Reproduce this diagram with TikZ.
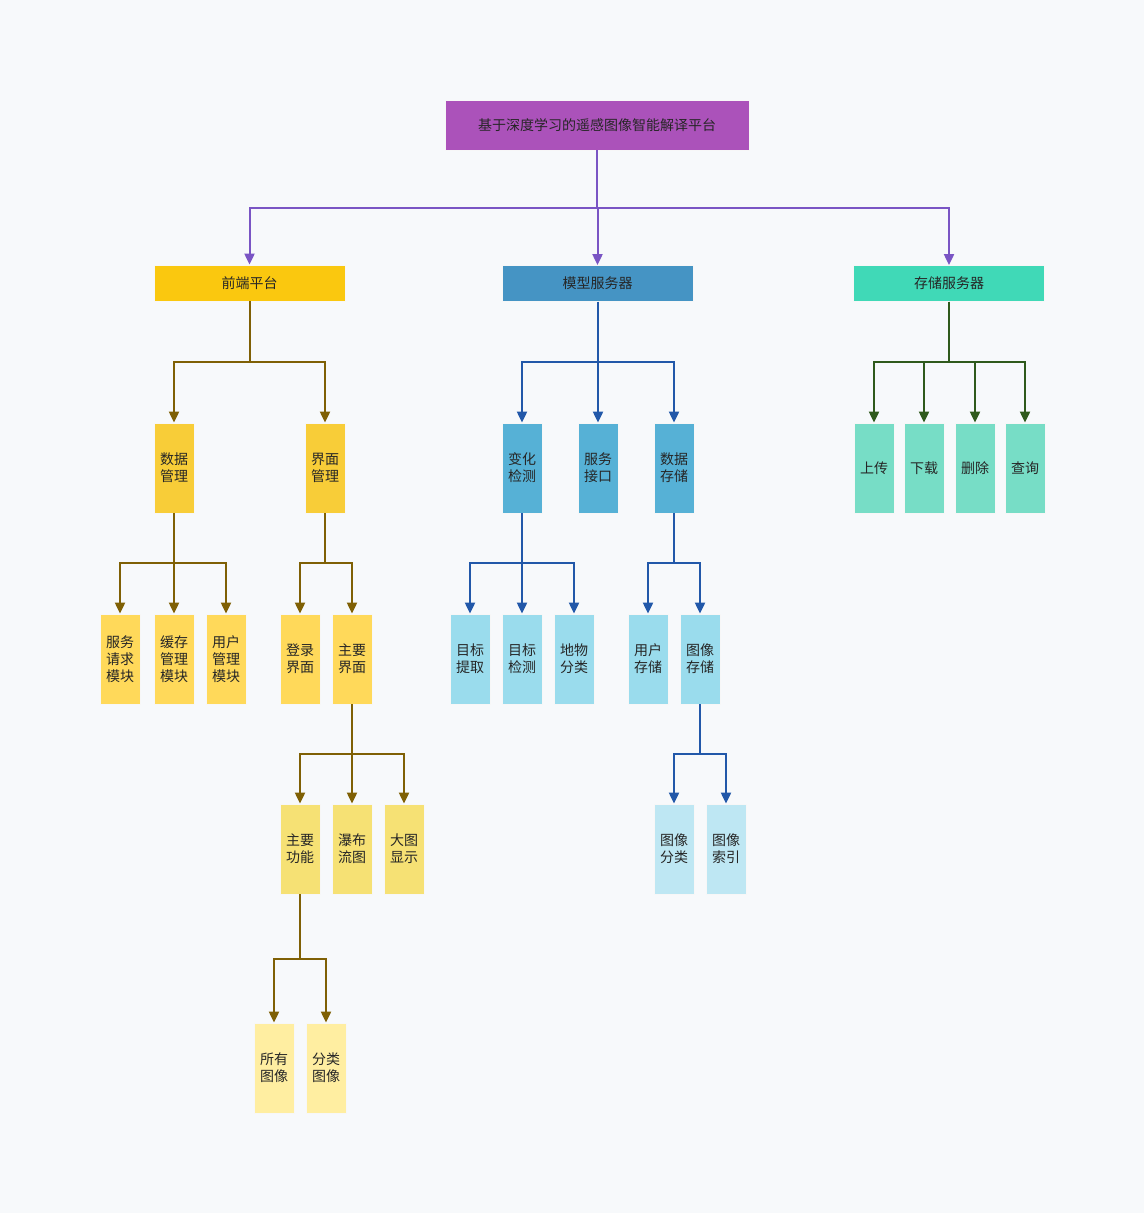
\documentclass[tikz,border=0pt]{standalone}
\usepackage{fontspec}
\setmainfont{Noto Sans CJK SC}
\usetikzlibrary{arrows.meta}
\definecolor{bg}{HTML}{F7F9FB}
\definecolor{cRoot}{HTML}{AB52BA}
\definecolor{cFe}{HTML}{FAC80F}
\definecolor{cFeA}{HTML}{F8CD38}
\definecolor{cFeB}{HTML}{FFD95A}
\definecolor{cFeC}{HTML}{F6E174}
\definecolor{cFeD}{HTML}{FFEEA1}
\definecolor{cMo}{HTML}{4594C4}
\definecolor{cMoA}{HTML}{56B1D6}
\definecolor{cMoB}{HTML}{9ADCED}
\definecolor{cMoC}{HTML}{BEE7F3}
\definecolor{cSt}{HTML}{40D9B7}
\definecolor{cStA}{HTML}{77DDC6}
\definecolor{lPurple}{HTML}{7A55C4}
\definecolor{lOlive}{HTML}{7F6005}
\definecolor{lBlue}{HTML}{2258A9}
\definecolor{lGreen}{HTML}{2F5A1C}
\definecolor{txt}{HTML}{262626}
\tikzset{
  box/.style={draw=white!70!black!10, line width=0.8pt, inner sep=0pt, align=center,
    text=txt, font=\fontsize{14}{17}\selectfont},
  wide/.style={box, minimum width=#1, minimum height=36},
  tall/.style={box, minimum width=40, minimum height=90},
  link/.style={line width=2pt, -{Triangle[length=11pt,width=10pt]}},
}
\begin{document}
\begin{tikzpicture}[x=1pt,y=-1pt]
\useasboundingbox[fill=bg] (0,0) rectangle (1144,1213);

% top
\node[box, fill=cRoot, minimum width=304, minimum height=50] (root) at (597,125) {基于深度学习的遥感图像智能解译平台};

% first level
\node[wide=191, fill=cFe] (fe) at (249.5,283) {前端平台};
\node[wide=191, fill=cMo] (mo) at (597.5,283.5) {模型服务器};
\node[wide=191, fill=cSt] (st) at (949,283.5) {存储服务器};

% front-end branch
\node[tall, fill=cFeA] (data) at (174,468) {数据\\管理};
\node[tall, fill=cFeA] (ui) at (325,468) {界面\\管理};
\node[tall, fill=cFeB] (req) at (120,659) {服务\\请求\\模块};
\node[tall, fill=cFeB] (cache) at (174,659) {缓存\\管理\\模块};
\node[tall, fill=cFeB] (user) at (226,659) {用户\\管理\\模块};
\node[tall, fill=cFeB] (login) at (300,659) {登录\\界面};
\node[tall, fill=cFeB] (mainui) at (352,659) {主要\\界面};
\node[tall, fill=cFeC] (func) at (300,849) {主要\\功能};
\node[tall, fill=cFeC] (flow) at (352,849) {瀑布\\流图};
\node[tall, fill=cFeC] (big) at (404,849) {大图\\显示};
\node[tall, fill=cFeD] (all) at (274,1068) {所有\\图像};
\node[tall, fill=cFeD] (cls) at (326,1068) {分类\\图像};

% model branch
\node[tall, fill=cMoA] (chg) at (522,468) {变化\\检测};
\node[tall, fill=cMoA] (api) at (598,468) {服务\\接口};
\node[tall, fill=cMoA] (dst) at (674,468) {数据\\存储};
\node[tall, fill=cMoB] (ext) at (470,659) {目标\\提取};
\node[tall, fill=cMoB] (det) at (522,659) {目标\\检测};
\node[tall, fill=cMoB] (land) at (574,659) {地物\\分类};
\node[tall, fill=cMoB] (ust) at (648,659) {用户\\存储};
\node[tall, fill=cMoB] (ist) at (700,659) {图像\\存储};
\node[tall, fill=cMoC] (icls) at (674,849) {图像\\分类};
\node[tall, fill=cMoC] (iidx) at (726,849) {图像\\索引};

% storage branch
\node[tall, fill=cStA] (up) at (874,468) {上传};
\node[tall, fill=cStA] (down) at (924,468) {下载};
\node[tall, fill=cStA] (del) at (975,468) {删除};
\node[tall, fill=cStA] (qry) at (1025,468) {查询};

% bus junctions
\coordinate (b0) at (597,208);
\coordinate (bFe) at (249.5,362);
\coordinate (bData) at (174,563);
\coordinate (bUi) at (325,563);
\coordinate (bMain) at (352,754);
\coordinate (bFunc) at (300,959);
\coordinate (bMo) at (597.5,362);
\coordinate (bChg) at (522,563);
\coordinate (bDst) at (674,563);
\coordinate (bIst) at (700,754);
\coordinate (bSt) at (949,362);

% connectors
\foreach \c in {fe,mo,st} \draw[link, lPurple] (root.south) -- (b0) -| (\c.north);
\foreach \c in {data,ui} \draw[link, lOlive] (fe.south) -- (bFe) -| (\c.north);
\foreach \c in {req,cache,user} \draw[link, lOlive] (data.south) -- (bData) -| (\c.north);
\foreach \c in {login,mainui} \draw[link, lOlive] (ui.south) -- (bUi) -| (\c.north);
\foreach \c in {func,flow,big} \draw[link, lOlive] (mainui.south) -- (bMain) -| (\c.north);
\foreach \c in {all,cls} \draw[link, lOlive] (func.south) -- (bFunc) -| (\c.north);
\foreach \c in {chg,api,dst} \draw[link, lBlue] (mo.south) -- (bMo) -| (\c.north);
\foreach \c in {ext,det,land} \draw[link, lBlue] (chg.south) -- (bChg) -| (\c.north);
\foreach \c in {ust,ist} \draw[link, lBlue] (dst.south) -- (bDst) -| (\c.north);
\foreach \c in {icls,iidx} \draw[link, lBlue] (ist.south) -- (bIst) -| (\c.north);
\foreach \c in {up,down,del,qry} \draw[link, lGreen] (st.south) -- (bSt) -| (\c.north);
\end{tikzpicture}
\end{document}
